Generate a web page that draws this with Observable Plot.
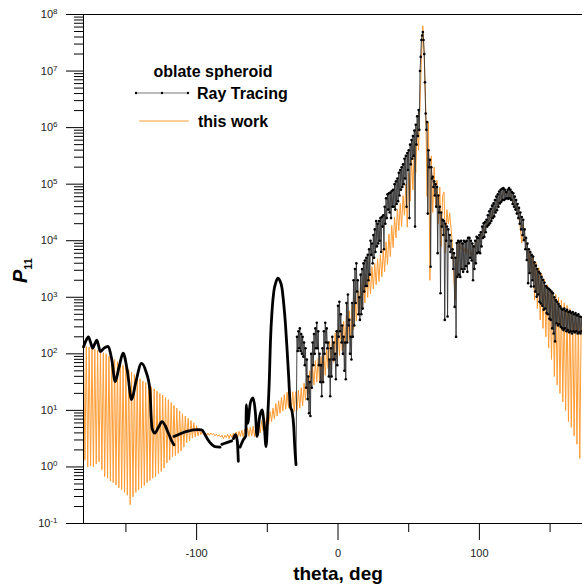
<!DOCTYPE html>
<html><head><meta charset="utf-8">
<script src="https://cdn.jsdelivr.net/npm/d3@7"></script>
<script src="https://cdn.jsdelivr.net/npm/@observablehq/plot@0.6"></script>
<style>
html,body{margin:0;padding:0;background:#fff;overflow:hidden;width:582px;height:585px}
#chart svg{display:block;max-width:none !important;width:592px !important;height:585px !important}
</style></head><body><div id="chart"></div>
<script>
// ---- data (values are log10 of P11) ----
// "this work": samples every 1 degree starting at theta = -180
const thisWorkStart = -180;
const thisWorkLog10 = [
 2.15,0.12,2.13,0.0,2.12,0.02,2.1,0.0,2.08,0.05,
 2.06,0.09,2.04,-0.05,2.02,-0.17,2.0,-0.2,1.96,-0.25,
 1.93,-0.28,1.9,-0.32,1.86,-0.37,1.83,-0.4,1.8,-0.45,
 1.76,-0.5,1.72,-0.67,1.68,-0.53,1.64,-0.45,1.6,-0.4,
 1.56,-0.37,1.52,-0.33,1.49,-0.28,1.45,-0.24,1.42,-0.2,
 1.38,-0.17,1.34,-0.12,1.3,-0.08,1.27,-0.02,1.23,0.07,
 1.19,0.12,1.14,0.18,1.09,0.2,1.04,0.24,0.99,0.28,
 0.94,0.35,0.9,0.43,0.86,0.46,0.82,0.51,0.78,0.53,
 0.73,0.55,0.68,0.57,0.64,0.58,0.6,0.55,0.6,0.56,
 0.6,0.57,0.59,0.55,0.58,0.54,0.57,0.53,0.56,0.5,
 0.56,0.52,0.58,0.5,0.58,0.52,0.6,0.5,0.62,0.52,
 0.63,0.54,0.65,0.52,0.67,0.53,0.69,0.54,0.7,0.55,
 0.72,0.53,0.74,0.55,0.78,0.6,0.82,0.64,0.87,0.69,
 0.92,0.75,0.98,0.8,1.04,0.85,1.12,0.9,1.17,0.95,
 1.23,0.99,1.28,1.02,1.32,1.04,1.33,1.0,1.33,0.98,
 1.33,1.0,1.36,1.04,1.4,1.08,1.48,1.18,1.58,1.3,
 1.7,1.38,1.78,1.45,1.88,1.5,1.92,1.5,1.95,1.52,
 2.0,1.62,2.1,1.74,2.22,1.79,2.29,1.85,2.37,1.91,
 2.44,1.97,2.51,2.05,2.58,2.12,2.67,2.22,2.76,2.3,
 2.86,2.42,3.0,2.58,3.12,2.7,3.25,2.82,3.33,2.9,
 3.4,3.0,3.47,3.06,3.54,3.15,3.6,3.22,3.68,3.28,
 3.75,3.36,3.85,3.45,3.98,3.58,4.12,3.72,4.27,3.88,
 4.42,4.05,4.56,4.18,4.66,4.25,4.8,4.45,5.0,4.24,
 5.2,4.7,5.45,4.9,5.75,5.2,6.0,5.6,6.43,7.2,
 7.8,7.25,6.4,4.78,6.1,3.3,5.5,4.5,5.3,4.6,
 5.07,4.3,4.95,3.9,4.8,4.86,3.78,4.55,4.3,4.49,
 4.2,3.9,3.3,2.95,3.7,3.98,3.95,3.85,3.9,3.8,
 3.88,3.78,3.85,3.75,3.8,3.72,3.85,3.9,3.95,4.0,
 4.05,4.08,4.12,4.18,4.22,4.28,4.33,4.38,4.42,4.47,
 4.52,4.58,4.63,4.68,4.72,4.76,4.8,4.82,4.84,4.85,
 4.84,4.82,4.78,4.74,4.7,4.66,4.62,4.58,4.4,4.2,
 3.96,4.3,4.1,3.95,3.9,3.6,3.82,3.4,3.72,2.95,
 3.62,2.8,3.52,2.6,3.42,2.45,3.32,2.3,3.22,2.1,
 3.15,1.9,3.1,1.6,3.05,1.45,3.0,1.3,2.95,1.15,
 2.9,1.0,2.86,0.8,2.8,0.7,2.75,0.55,2.7,0.4,
 2.65,0.15,2.6
];

// "Ray Tracing": smooth low-angle branches, [theta, log10 P11]
const raySegA = [[-180,2.12],[-178.5,2.22],[-176.5,2.30],[-175,2.2],[-173.4,2.10],[-172,2.18],[-170.6,2.24],[-169.3,2.14],[-168.2,2.04],[-165.5,2.10],[-162.8,2.13],[-160,1.9],[-157.6,1.51],[-155,1.75],[-152,2.01],[-149,1.7],[-146,1.19],[-143,1.5],[-139,1.83],[-136,1.7],[-133,1.36],[-132.2,0.9],[-131.5,0.68],[-129.5,0.6],[-127,0.7],[-124.5,0.8],[-122,0.72],[-120,0.6],[-118,0.48],[-116,0.39]];
const raySegB = [[-116,0.54],[-113,0.57],[-109.3,0.61],[-105,0.64],[-102.3,0.655],[-99,0.66],[-96.4,0.655],[-94,0.57],[-92,0.48],[-90.5,0.43],[-87,0.36],[-83.4,0.35]];
const raySegC = [[-82.2,0.40],[-78.7,0.43],[-75.2,0.46]];
const raySegD = [[-74,0.50],[-72.5,0.57],[-71.2,0.45],[-70.5,0.1]];
const raySegE = [[-69.3,0.35],[-67,0.48],[-65.2,0.55],[-64.8,1.10],[-63.9,0.77],[-62,1.13],[-60.1,1.22],[-58.4,0.95],[-57.3,0.54],[-55.4,0.89],[-53.7,1.01],[-52.1,0.71],[-50.9,0.36],[-49.7,0.89],[-48.5,1.60],[-47.8,2.20],[-46.6,2.78],[-45.4,3.10],[-44,3.26],[-42.6,3.34],[-41.2,3.30],[-39.6,3.16],[-38.4,2.89],[-37.2,2.54],[-36,2.07],[-34.9,1.60],[-33.7,1.07],[-32.5,0.98],[-31.3,0.71],[-30.6,0.36],[-29.7,0.04]];

// "Ray Tracing": scattered branch, one upper value at theta and one lower value at theta+0.5, theta from -29
const rayScatterStart = -29;
const rayHiLog10 = [
 2.3,2.4,2.45,2.35,2.3,2.2,2.1,1.9,1.6,1.5,
 2.0,2.2,2.35,2.45,2.55,2.4,2.0,1.8,2.1,2.4,
 2.55,2.45,2.2,1.9,2.1,2.3,2.2,2.0,2.4,2.85,
 2.92,2.7,2.5,2.3,2.2,2.9,3.05,2.6,2.3,2.9,
 3.3,3.5,3.6,3.3,3.0,3.4,3.5,3.6,3.65,3.7,
 3.75,3.85,4.0,3.95,4.1,4.2,4.35,4.3,4.35,4.4,
 4.42,4.45,4.6,4.75,4.82,4.84,4.85,4.88,4.9,5.0,
 5.05,5.1,5.2,5.25,5.3,5.35,5.45,5.5,5.55,5.6,
 5.7,5.78,5.85,5.95,6.05,6.2,6.31,7.0,7.55,7.69,
 7.3,6.25,6.1,5.6,5.43,5.3,5.13,5.05,5.0,4.95,
 4.8,4.6,4.5,4.37,4.35,4.3,4.25,4.2,4.1,4.0,
 3.85,3.78,3.7,3.96,4.0,3.98,4.0,3.95,4.0,3.98,
 4.0,4.05,4.05,4.0,3.95,3.9,4.0,4.07,4.05,4.1,
 4.15,4.25,4.31,4.33,4.37,4.45,4.52,4.56,4.62,4.66,
 4.72,4.78,4.82,4.87,4.9,4.92,4.93,4.9,4.86,4.9,
 4.93,4.9,4.86,4.84,4.78,4.72,4.65,4.58,4.5,4.42,
 4.37,4.2,4.05,3.95,3.85,3.8,3.75,3.72,3.62,3.56,
 3.5,3.45,3.42,3.36,3.31,3.26,3.2,3.17,3.15,3.13,
 3.1,3.07,3.0,2.95,2.92,2.88,2.84,2.8,2.78,2.8,
 2.76,2.78,2.74,2.75,2.72,2.74,2.7,2.72,2.68,2.7,
 2.66,2.65
];
const rayLoLog10 = [
 2.05,2.1,2.05,2.0,1.95,1.8,1.4,1.2,0.95,0.9,
 1.4,1.8,2.0,2.1,2.1,1.8,1.5,1.25,1.5,2.0,
 2.2,2.1,1.6,1.25,1.6,1.9,1.9,1.55,1.8,2.3,
 2.4,2.2,2.0,1.7,1.55,2.2,2.5,2.0,1.9,2.3,
 2.5,2.9,3.1,2.7,2.6,2.7,2.8,3.1,3.2,3.2,
 3.3,3.4,3.75,3.6,3.7,3.8,3.9,3.95,4.0,3.8,
 4.25,3.85,4.3,4.4,4.55,4.5,4.4,4.6,4.6,4.55,
 4.65,4.7,4.8,4.9,4.95,5.0,5.1,4.6,5.25,4.4,
 5.35,5.45,5.5,4.25,5.7,5.85,5.96,7.25,7.63,7.55,
 6.8,5.96,4.48,5.3,3.54,5.1,4.95,4.8,4.6,3.78,
 4.5,3.07,4.25,4.1,2.6,4.0,2.66,3.9,3.8,3.7,
 3.5,2.83,2.3,3.36,3.4,3.36,3.5,3.45,3.5,3.55,
 3.45,3.6,3.7,3.65,3.3,3.5,3.6,3.78,3.8,3.78,
 3.9,4.05,4.07,4.15,4.25,4.28,4.31,4.35,4.4,4.43,
 4.5,4.54,4.6,4.66,4.69,4.72,4.72,4.74,4.75,4.74,
 4.75,4.72,4.65,4.6,4.55,4.48,4.4,4.3,4.2,4.1,
 4.01,3.85,3.66,3.25,3.43,3.19,3.3,3.19,3.1,3.01,
 3.05,2.92,2.89,2.85,2.78,2.8,2.72,2.7,2.62,2.6,
 2.45,2.36,2.22,2.54,2.5,2.52,2.48,2.45,2.42,2.45,
 2.4,2.42,2.38,2.4,2.36,2.4,2.38,2.4,2.36,2.38,
 2.36,2.4
];

const xLabelTicks = [-100, 0, 100];
const xMinorTicks = [-150, -50, 50, 150];
const yExponents = [-1, 0, 1, 2, 3, 4, 5, 6, 7, 8];
const legendTitle = "oblate spheroid";
const seriesNames = ["Ray Tracing", "this work"];

// ---- build tables ----
const orange = "#ff9c33";
const thisWork = thisWorkLog10.map((v, i) => ({theta: thisWorkStart + i, p: 10 ** v}));
const raySmooth = [["a", raySegA], ["b", raySegB], ["c", raySegC], ["d", raySegD], ["e", raySegE]]
  .flatMap(([seg, arr]) => arr.map(([t, v]) => ({theta: t, p: 10 ** v, seg})));
const rayScatter = [];
rayHiLog10.forEach((v, i) => {
  rayScatter.push({theta: rayScatterStart + i, p: 10 ** v});
  rayScatter.push({theta: rayScatterStart + i + 0.5, p: 10 ** rayLoLog10[i]});
});
const lastE = raySegE[raySegE.length - 1];
const rayThin = [{theta: lastE[0], p: 10 ** lastE[1]}, ...rayScatter];

const yMajor = yExponents.map(e => 10 ** e);
const yMinor = [];
yExponents.slice(0, -1).forEach(e => { for (let m = 2; m <= 9; m++) yMinor.push(m * 10 ** e); });

const chart = Plot.plot({
  width: 592, height: 585,
  marginLeft: 83, marginRight: 0, marginTop: 14, marginBottom: 62,
  x: {domain: [-180, 180]},
  y: {type: "log", domain: [0.1, 1e8]},
  style: {fontFamily: "'Liberation Sans', Arial, sans-serif", fontSize: "11px", background: "white", color: "black", overflow: "visible", maxWidth: "none"},
  marks: [
    Plot.line(thisWork, {x: "theta", y: "p", stroke: orange, strokeWidth: 1}),
    Plot.line(rayThin, {x: "theta", y: "p", stroke: "#333", strokeWidth: 0.9}),
    Plot.line(raySmooth, {x: "theta", y: "p", z: "seg", stroke: "black", strokeWidth: 2.8, curve: "monotone-x"}),
    Plot.dot(rayScatter, {x: "theta", y: "p", r: 1.3, fill: "black", stroke: null}),
    Plot.frame({stroke: "black", strokeWidth: 1}),
    Plot.axisY(yMinor, {anchor: "left", tickSize: 9, fill: "none", label: null}),
    Plot.axisY(yMajor, {anchor: "left", tickSize: 17, fill: "none", label: null}),
    Plot.axisX(xMinorTicks, {anchor: "bottom", tickSize: 9, fill: "none", label: null}),
    Plot.axisX(xLabelTicks, {anchor: "bottom", tickSize: 17, fill: "none", label: null}),
    Plot.text(xLabelTicks, {x: d => d, text: d => String(d), frameAnchor: "bottom", dy: 33, fontSize: 11, fill: "#222"}),
    Plot.text(yExponents, {y: e => 10 ** e, text: e => "10^" + e, frameAnchor: "left", dx: -26, textAnchor: "end", fontSize: 11, fill: "#222"})
  ]
});

const svg = d3.select(chart);
// superscript exponents
svg.selectAll("text").each(function () {
  const m = this.textContent.match(/^10\^(-?\d+)$/);
  if (m) {
    const s = d3.select(this);
    s.text(null);
    s.append("tspan").text("10");
    s.append("tspan").attr("dy", "-4").attr("font-size", "8").text(m[1]);
  }
});

const font = "'Liberation Sans', Arial, sans-serif";
// axis titles
svg.append("text").attr("x", 338).attr("y", 580).attr("text-anchor", "middle")
  .attr("font-family", font).attr("font-size", 19).attr("font-weight", "bold").attr("fill", "black")
  .text("theta, deg");
const yl = svg.append("text").attr("transform", "translate(27,283) rotate(-90)").attr("text-anchor", "start")
  .attr("font-family", font).attr("font-weight", "bold").attr("fill", "black");
yl.append("tspan").attr("font-size", 20).attr("font-style", "italic").text("P");
yl.append("tspan").attr("font-size", 11).attr("dy", 5).text("11");

// legend
const lg = svg.append("g").attr("font-family", font).attr("font-weight", "bold").attr("font-size", 16).attr("fill", "black").attr("text-anchor", "start");
lg.append("text").attr("x", 213).attr("y", 77).attr("text-anchor", "middle").text(legendTitle);
lg.append("line").attr("x1", 136).attr("x2", 188).attr("y1", 93).attr("y2", 93).attr("stroke", "#555").attr("stroke-width", 0.8);
[136, 162, 188].forEach(x => lg.append("circle").attr("cx", x).attr("cy", 93).attr("r", 1.2).attr("fill", "black"));
lg.append("text").attr("x", 197).attr("y", 99).text(seriesNames[0]);
lg.append("line").attr("x1", 139).attr("x2", 189).attr("y1", 121).attr("y2", 121).attr("stroke", orange).attr("stroke-width", 1);
lg.append("text").attr("x", 198).attr("y", 127).text(seriesNames[1]);

document.getElementById("chart").append(chart);
</script></body></html>
